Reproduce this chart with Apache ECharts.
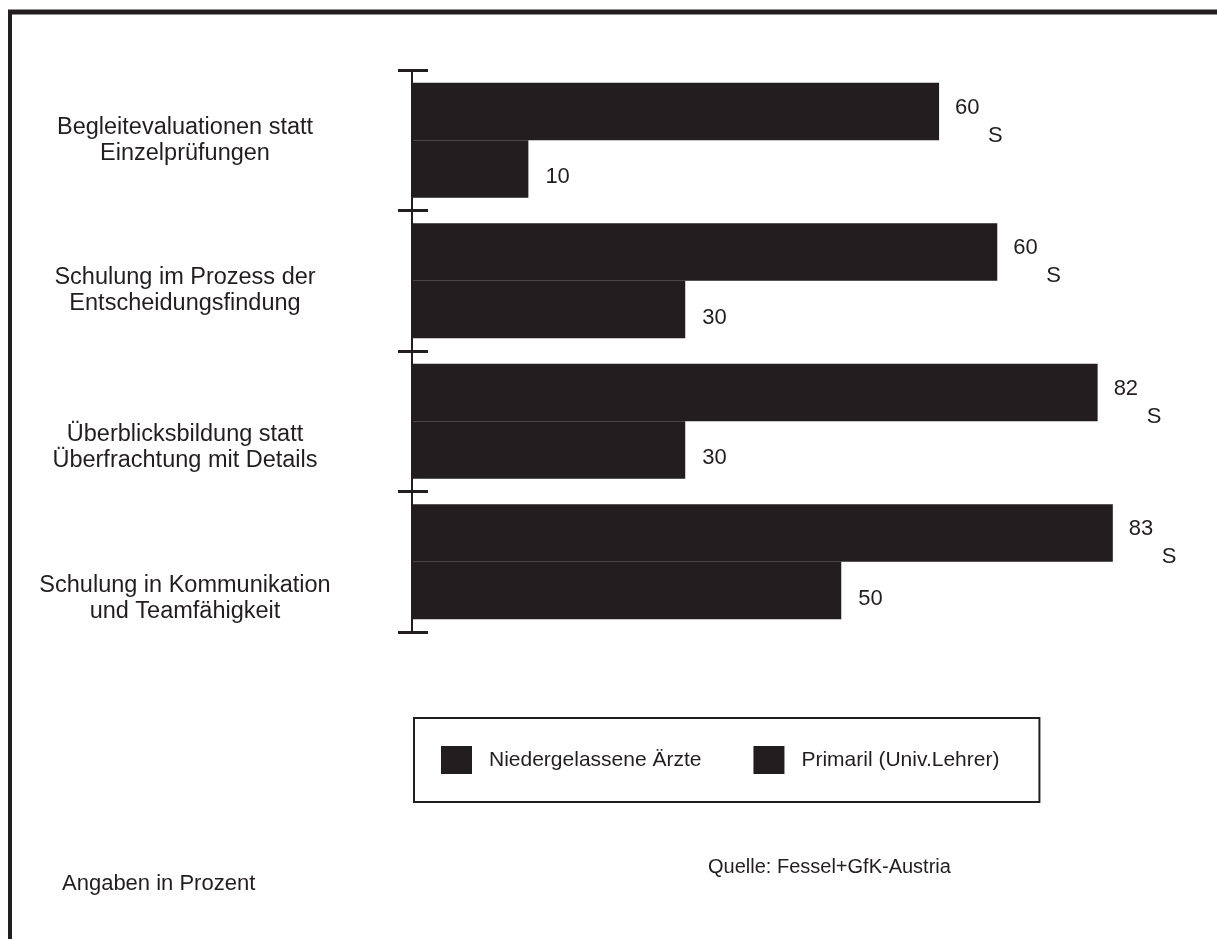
<!DOCTYPE html>
<html>
<head>
<meta charset="utf-8">
<script src="https://cdn.jsdelivr.net/npm/echarts@6/dist/echarts.min.js"></script>
<style>
  html, body { margin: 0; padding: 0; background: #fff; }
  #main { width: 1217px; height: 939px; }
</style>
</head>
<body>
<div id="main"></div>
<script>
// Kategorien (von oben nach unten)
const categories = [
  'Begleitevaluationen statt\nEinzelprüfungen',
  'Schulung im Prozess der\nEntscheidungsfindung',
  'Überblicksbildung statt\nÜberfrachtung mit Details',
  'Schulung in Kommunikation\nund Teamfähigkeit'
]
const seriesNames = ['Niedergelassene Ärzte', 'Primaril (Univ.Lehrer)']
// gedruckte Werte
const labelsA = [60, 60, 82, 83]
const labelsB = [10, 30, 30, 50]
// Balkenlängen, so wie sie im Bild gezeichnet sind
const barsA = [62.5, 69.4, 81.3, 83.1]
const barsB = [13.8, 32.4, 32.4, 50.9]
// Signifikanz-Markierung
const sigMarks = ['S', 'S', 'S', 'S']
// Leerzeile über der Beschriftung (schiebt sie nach unten)
const labelShift = [0, 20, 52, 74]

const ink = '#221e1f'
const font = '"Liberation Sans", Arial, sans-serif'

const chart = echarts.init(document.getElementById('main'))

const catRich = { t: { fontSize: 23.5, lineHeight: 26, color: ink, fontFamily: font, align: 'center' } }
labelShift.forEach((h, i) => {
  catRich['sp' + i] = { fontSize: 2, lineHeight: h, height: h }
})

chart.setOption({
  backgroundColor: '#fff',
  animation: false,
  textStyle: { fontFamily: font, color: ink },
  grid: { left: 412, top: 70, width: 759, height: 562, outerBoundsMode: 'none', containLabel: false },
  xAxis: {
    type: 'value', min: 0, max: 90, show: false
  },
  yAxis: [{
    type: 'category',
    inverse: true,
    data: categories,
    axisLine: { lineStyle: { color: ink, width: 2 } },
    axisTick: { show: true, alignWithLabel: false, length: 14, lineStyle: { color: ink, width: 3 } },
    axisLabel: {
      margin: 227, align: 'center',
      formatter: (v, i) => {
        const lines = v.split('\n').map(l => '{t|' + l + '}').join('\n')
        return labelShift[i] > 0 ? '{sp' + i + '| }\n' + lines : lines
      },
      rich: catRich
    }
  }, {
    type: 'category',
    inverse: true,
    position: 'left',
    data: categories,
    axisLine: { show: false },
    axisTick: { show: true, alignWithLabel: false, inside: true, length: 16, lineStyle: { color: ink, width: 3 } },
    axisLabel: { show: false }
  }],
  legend: {
    left: 414, top: 718,
    orient: 'horizontal',
    data: seriesNames,
    icon: 'rect',
    itemWidth: 31, itemHeight: 28, itemGap: 52,
    padding: [28, 40, 28, 27],
    borderColor: ink, borderWidth: 2,
    textStyle: { fontSize: 21, color: ink, fontFamily: font, padding: [0, 0, 0, 12] }
  },
  series: [{
    name: seriesNames[0],
    type: 'bar',
    data: barsA,
    barGap: 0,
    barCategoryGap: '18%',
    itemStyle: { color: ink },
    label: {
      show: true, position: 'right', distance: 16, offset: [0, 10],
      formatter: p => '{n|' + labelsA[p.dataIndex] + '}\n{s|' + sigMarks[p.dataIndex] + '}',
      rich: {
        n: { fontSize: 22, color: ink, fontFamily: font, lineHeight: 28 },
        s: { fontSize: 22, color: ink, fontFamily: font, lineHeight: 28, padding: [0, 0, 0, 33] }
      }
    }
  }, {
    name: seriesNames[1],
    type: 'bar',
    data: barsB,
    itemStyle: { color: ink },
    label: {
      show: true, position: 'right', distance: 17, offset: [0, 8],
      fontSize: 22, color: ink, fontFamily: font,
      formatter: p => String(labelsB[p.dataIndex])
    }
  }],
  graphic: [
    { type: 'line', shape: { x1: 10, y1: 10, x2: 10, y2: 939 }, style: { stroke: ink, lineWidth: 4 } },
    { type: 'line', shape: { x1: 8, y1: 12, x2: 1217, y2: 12 }, style: { stroke: ink, lineWidth: 5 } },
    { type: 'text', left: 62, top: 873, style: { text: 'Angaben in Prozent', fontSize: 22, fill: ink, fontFamily: font } },
    { type: 'text', left: 708, top: 857, style: { text: 'Quelle: Fessel+GfK-Austria', fontSize: 20, fill: ink, fontFamily: font } }
  ]
})
</script>
</body>
</html>
